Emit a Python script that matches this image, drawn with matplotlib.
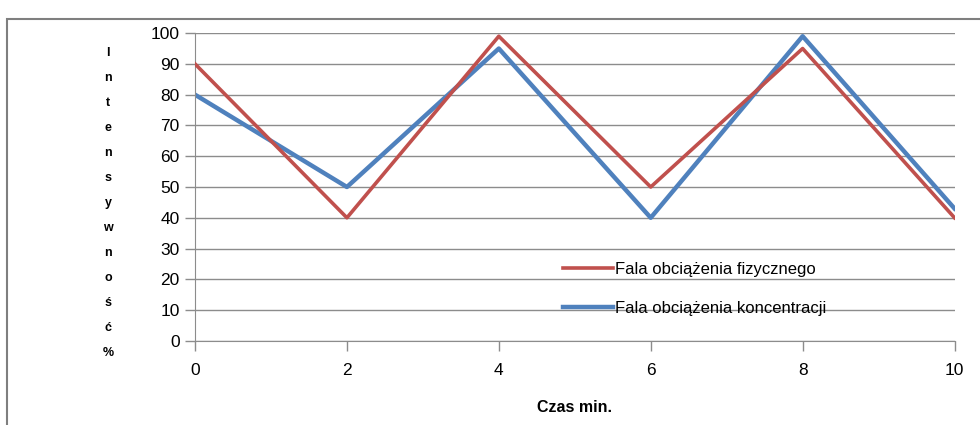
import matplotlib.pyplot as plt
from matplotlib.patches import Rectangle

# Dane
czas = [0, 2, 4, 6, 8, 10]
fizyczne = [90, 40, 99, 50, 95, 40]
koncentracja = [80, 50, 95, 40, 99, 43]
etykieta_y = ['I', 'n', 't', 'e', 'n', 's', 'y', 'w', 'n', 'o', 'ś', 'ć', '%']

plt.rcParams['font.family'] = ['Liberation Sans', 'DejaVu Sans']

fig = plt.figure(figsize=(9.8, 4.25), dpi=100)
ax = fig.add_axes([0.199, 0.198, 0.775, 0.724])

szary = '#8c8c8c'

ax.plot(czas, fizyczne, color='#C0504D', linewidth=2.6, label='Fala obciążenia fizycznego', zorder=3)
ax.plot(czas, koncentracja, color='#4F81BD', linewidth=3.2, label='Fala obciążenia koncentracji', zorder=2)

ax.set_xlim(0, 10)
ax.set_ylim(0, 100)
ax.set_xticks(range(0, 11, 2))
ax.set_yticks(range(0, 101, 10))
ax.grid(axis='y', color=szary, linewidth=1)
ax.set_axisbelow(True)

for s in ['top', 'right']:
    ax.spines[s].set_visible(False)
for s in ['left', 'bottom']:
    ax.spines[s].set_color(szary)
ax.tick_params(axis='both', colors=szary, labelcolor='black', labelsize=12.5, length=7, width=1)
ax.tick_params(axis='x', pad=9)
ax.tick_params(axis='y', pad=4)

ax.set_xlabel('Czas min.', fontsize=11.5, fontweight='bold', labelpad=16)

fig.text(108 / 980, (425 - 203) / 425, '\n'.join(etykieta_y), fontsize=9, fontweight='bold',
         ha='center', va='center', linespacing=2.45)

ax.legend(loc='upper left', bbox_to_anchor=(0.465, 0.305), frameon=False, fontsize=12,
          handlelength=3, handletextpad=0.1, labelspacing=1.45)

fig.patches.append(Rectangle((7 / 980, -0.05), 1.1, (425 - 19) / 425 + 0.05,
                             transform=fig.transFigure, fill=False, edgecolor='#7f7f7f',
                             linewidth=1.5))

fig.savefig('out.png', dpi=100)
